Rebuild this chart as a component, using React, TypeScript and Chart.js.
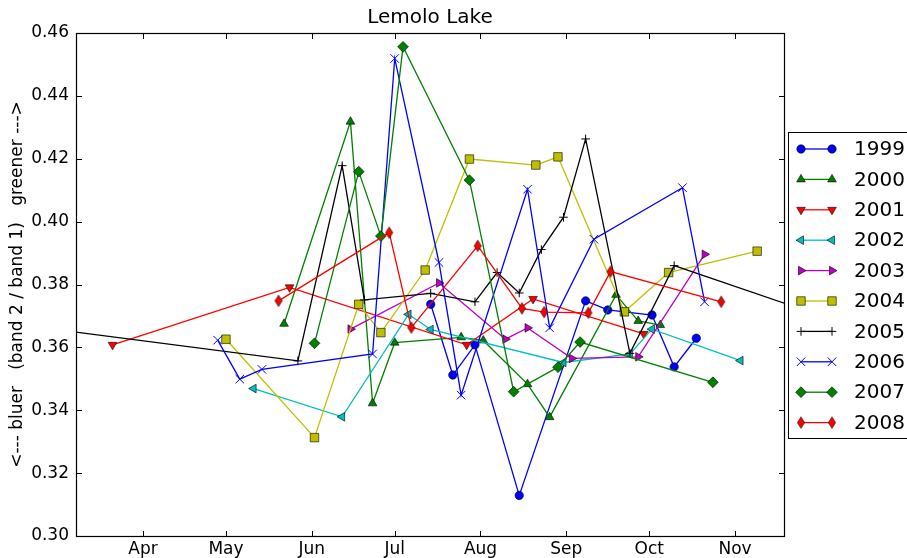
import React, { useEffect, useRef } from 'react';
import { Chart, registerables } from 'chart.js';
import { drawPoint } from 'chart.js/helpers';

Chart.register(...registerables);

// ---- data (x = day of year, y = band2/band1 ratio) ----
const monthTickDays = [91, 121, 152, 182, 213, 244, 274, 305];
const monthTickLabels = ['Apr', 'May', 'Jun', 'Jul', 'Aug', 'Sep', 'Oct', 'Nov'];
const yTickValues = [0.3, 0.32, 0.34, 0.36, 0.38, 0.4, 0.42, 0.44, 0.46];

const seriesNames = ['1999', '2000', '2001', '2002', '2003', '2004', '2005', '2006', '2007', '2008'];

const days1999 = [195, 203, 211, 227, 251, 259, 275, 283, 291];
const vals1999 = [0.3737, 0.3512, 0.3608, 0.3129, 0.3748, 0.3719, 0.3703, 0.3538, 0.3629];

const days2000 = [142, 166, 174, 182, 206, 214, 230, 238, 262, 270, 278];
const vals2000 = [0.3675, 0.4318, 0.3422, 0.3615, 0.3632, 0.3622, 0.3483, 0.3378, 0.3767, 0.3684, 0.3671];

const days2001 = [80, 144, 208, 232, 272];
const vals2001 = [0.3608, 0.3791, 0.3608, 0.3754, 0.3643];

const days2002 = [131, 163, 187, 195, 243, 267, 275, 307];
const vals2002 = [0.3469, 0.3379, 0.3705, 0.3657, 0.3552, 0.3579, 0.3658, 0.3558];

const days2003 = [166, 198, 222, 230, 246, 270, 294];
const vals2003 = [0.3658, 0.3805, 0.3626, 0.3662, 0.3565, 0.357, 0.3896];

const days2004 = [121, 153, 169, 177, 193, 209, 233, 241, 265, 281, 313];
const vals2004 = [0.3626, 0.3313, 0.3737, 0.3647, 0.3846, 0.4199, 0.418, 0.4206, 0.3713, 0.3838, 0.3906];

const days2005 = [43, 147, 163, 171, 195, 211, 219, 227, 235, 243, 251, 267, 283, 331];
const vals2005 = [0.3676, 0.3557, 0.4178, 0.3751, 0.3772, 0.3745, 0.3838, 0.3773, 0.3911, 0.4014, 0.4263, 0.3581, 0.386, 0.3716];

const days2006 = [118, 126, 134, 174, 182, 198, 206, 230, 238, 254, 286, 294];
const vals2006 = [0.3623, 0.3499, 0.353, 0.3579, 0.4519, 0.387, 0.3448, 0.4103, 0.3662, 0.3944, 0.4108, 0.3745];

const days2007 = [153, 169, 177, 185, 209, 225, 241, 249, 297];
const vals2007 = [0.3613, 0.4159, 0.3954, 0.4556, 0.4132, 0.3459, 0.3537, 0.3617, 0.3489];

const days2008 = [140, 180, 188, 212, 228, 236, 252, 260, 300];
const vals2008 = [0.3748, 0.3965, 0.3663, 0.3923, 0.3724, 0.3712, 0.371, 0.3841, 0.3745];

const seriesDays = [days1999, days2000, days2001, days2002, days2003, days2004, days2005, days2006, days2007, days2008];
const seriesVals = [vals1999, vals2000, vals2001, vals2002, vals2003, vals2004, vals2005, vals2006, vals2007, vals2008];

const seriesColors = ['#0000ff', '#008000', '#ff0000', '#00bfbf', '#bf00bf', '#bfbf00', '#000000', '#0000ff', '#008000', '#ff0000'];
const seriesMarkers = ['o', '^', 'v', '<', '>', 's', '+', 'x', 'D', 'd'];

const titleText = 'Lemolo Lake';
const yTitleText = '<--- bluer   (band 2 / band 1)   greener --->';

const FONT = "'DejaVu Sans', 'Liberation Sans', sans-serif";

function makeThinDiamond(color: string): HTMLCanvasElement {
  const c = document.createElement('canvas');
  c.width = 10;
  c.height = 14;
  const g = c.getContext('2d')!;
  g.beginPath();
  g.moveTo(5, 1.3);
  g.lineTo(8.6, 7);
  g.lineTo(5, 12.7);
  g.lineTo(1.4, 7);
  g.closePath();
  g.fillStyle = color;
  g.fill();
  g.lineWidth = 0.6;
  g.strokeStyle = '#000';
  g.stroke();
  return c;
}

function markerStyle(m: string, color: string) {
  switch (m) {
    case 'o': return { pointStyle: 'circle' as any, rotation: 0, radius: 4.2, fill: color, edge: '#000', edgeW: 0.6 };
    case '^': return { pointStyle: 'triangle' as any, rotation: 0, radius: 5, fill: color, edge: '#000', edgeW: 0.6 };
    case 'v': return { pointStyle: 'triangle' as any, rotation: 180, radius: 5, fill: color, edge: '#000', edgeW: 0.6 };
    case '<': return { pointStyle: 'triangle' as any, rotation: 270, radius: 5, fill: color, edge: '#000', edgeW: 0.6 };
    case '>': return { pointStyle: 'triangle' as any, rotation: 90, radius: 5, fill: color, edge: '#000', edgeW: 0.6 };
    case 's': return { pointStyle: 'rect' as any, rotation: 0, radius: 6, fill: color, edge: '#000', edgeW: 0.6 };
    case '+': return { pointStyle: 'cross' as any, rotation: 0, radius: 4.3, fill: color, edge: color, edgeW: 1 };
    case 'x': return { pointStyle: 'crossRot' as any, rotation: 0, radius: 6, fill: color, edge: color, edgeW: 1 };
    case 'D': return { pointStyle: 'rectRot' as any, rotation: 0, radius: 5.4, fill: color, edge: '#000', edgeW: 0.6 };
    default: return { pointStyle: makeThinDiamond(color) as any, rotation: 0, radius: 5, fill: color, edge: '#000', edgeW: 0.6 };
  }
}

export default function App() {
  const ref = useRef<HTMLCanvasElement | null>(null);

  useEffect(() => {
    if (!ref.current) return;
    const styles = seriesNames.map((_, i) => markerStyle(seriesMarkers[i], seriesColors[i]));

    const datasets = seriesNames.map((name, i) => ({
      label: name,
      data: seriesDays[i].map((d, j) => ({ x: d, y: seriesVals[i][j] })),
      borderColor: seriesColors[i],
      backgroundColor: seriesColors[i],
      borderWidth: 1.3,
      tension: 0,
      pointStyle: styles[i].pointStyle,
      pointRotation: styles[i].rotation,
      pointRadius: styles[i].radius,
      pointBackgroundColor: styles[i].fill,
      pointBorderColor: styles[i].edge,
      pointBorderWidth: styles[i].edgeW,
      order: seriesNames.length - i,
    }));

    const framePlugin = {
      id: 'frameTicks',
      afterDatasetsDraw(chart: any) {
        const { ctx, chartArea } = chart;
        const { left, right, top, bottom } = chartArea;
        const xs = chart.scales.x;
        const ys = chart.scales.y;
        const tl = 5.5;
        ctx.save();
        ctx.strokeStyle = '#000';
        ctx.lineWidth = 1;
        ctx.beginPath();
        xs.ticks.forEach((t: any) => {
          const px = Math.round(xs.getPixelForValue(t.value)) + 0.5;
          ctx.moveTo(px, bottom + 0.5);
          ctx.lineTo(px, bottom + 0.5 - tl);
          ctx.moveTo(px, top + 0.5);
          ctx.lineTo(px, top + 0.5 + tl);
        });
        ys.ticks.forEach((t: any) => {
          const py = Math.round(ys.getPixelForValue(t.value)) + 0.5;
          ctx.moveTo(left + 0.5, py);
          ctx.lineTo(left + 0.5 + tl, py);
          ctx.moveTo(right + 0.5, py);
          ctx.lineTo(right + 0.5 - tl, py);
        });
        ctx.stroke();
        ctx.lineWidth = 1.2;
        ctx.strokeRect(left + 0.5, top + 0.5, right - left, bottom - top);
        ctx.restore();
      },
    };

    const legendPlugin = {
      id: 'boxLegend',
      afterDraw(chart: any) {
        const { ctx, chartArea } = chart;
        const bx = chartArea.right + 4;
        const by = 132;
        const bh = 306;
        const rowH = 30.4;
        ctx.save();
        ctx.fillStyle = '#fff';
        ctx.fillRect(bx, by, 200, bh);
        ctx.strokeStyle = '#000';
        ctx.lineWidth = 1;
        ctx.strokeRect(bx + 0.5, by + 0.5, 200, bh);
        ctx.font = `20px ${FONT}`;
        ctx.textBaseline = 'middle';
        ctx.textAlign = 'left';
        seriesNames.forEach((name, i) => {
          const y = by + 17 + i * rowH;
          const x0 = bx + 13;
          const x1 = bx + 44;
          ctx.strokeStyle = seriesColors[i];
          ctx.lineWidth = 1.3;
          ctx.beginPath();
          ctx.moveTo(x0, y);
          ctx.lineTo(x1, y);
          ctx.stroke();
          const st = styles[i];
          [x0, x1].forEach((px) => {
            ctx.fillStyle = st.fill;
            ctx.strokeStyle = st.edge;
            ctx.lineWidth = st.edgeW;
            drawPoint(ctx, { pointStyle: st.pointStyle, rotation: st.rotation, radius: st.radius, borderWidth: st.edgeW } as any, px, y);
          });
          ctx.fillStyle = '#000';
          ctx.fillText(name, bx + 66, y + 1);
        });
        ctx.restore();
      },
    };

    const chart = new Chart(ref.current, {
      type: 'line',
      data: { datasets: datasets as any },
      plugins: [framePlugin, legendPlugin],
      options: {
        animation: false,
        responsive: false,
        events: [],
        layout: { padding: { left: 0, right: 123, top: 0, bottom: 0 } },
        plugins: {
          legend: { display: false },
          tooltip: { enabled: false },
          title: {
            display: true,
            text: titleText,
            fullSize: false,
            color: '#000',
            font: { family: FONT, size: 20, weight: 'normal' as any },
            padding: { top: 6, bottom: 3 },
          },
        },
        scales: {
          x: {
            type: 'linear',
            min: 66.8,
            max: 322.7,
            grid: { display: false, drawTicks: false },
            border: { display: false },
            afterBuildTicks: (s: any) => { s.ticks = monthTickDays.map((v) => ({ value: v })); },
            afterFit: (s: any) => { s.height = 22; },
            ticks: {
              color: '#000',
              font: { family: FONT, size: 17 },
              padding: 3,
              maxRotation: 0,
              autoSkip: false,
              callback: (v: any) => {
                const k = monthTickDays.indexOf(Number(v));
                return k >= 0 ? monthTickLabels[k] : '';
              },
            },
          },
          y: {
            type: 'linear',
            min: 0.3,
            max: 0.46,
            grid: { display: false, drawTicks: false },
            border: { display: false },
            afterBuildTicks: (s: any) => { s.ticks = yTickValues.map((v) => ({ value: v })); },
            afterFit: (s: any) => { s.width = 76; },
            title: {
              display: true,
              text: yTitleText,
              color: '#000',
              font: { family: FONT, size: 17 },
              padding: { top: 7, bottom: 0 },
            },
            ticks: {
              color: '#000',
              font: { family: FONT, size: 17 },
              padding: 7,
              callback: (v: any) => Number(v).toFixed(2),
            },
          },
        },
      },
    });
    return () => chart.destroy();
  }, []);

  return (
    <div style={{ position: 'absolute', left: 0, top: 0, width: 907, height: 558, background: '#fff' }}>
      <canvas ref={ref} width={907} height={558} style={{ display: 'block', width: 907, height: 558 }} />
    </div>
  );
}
